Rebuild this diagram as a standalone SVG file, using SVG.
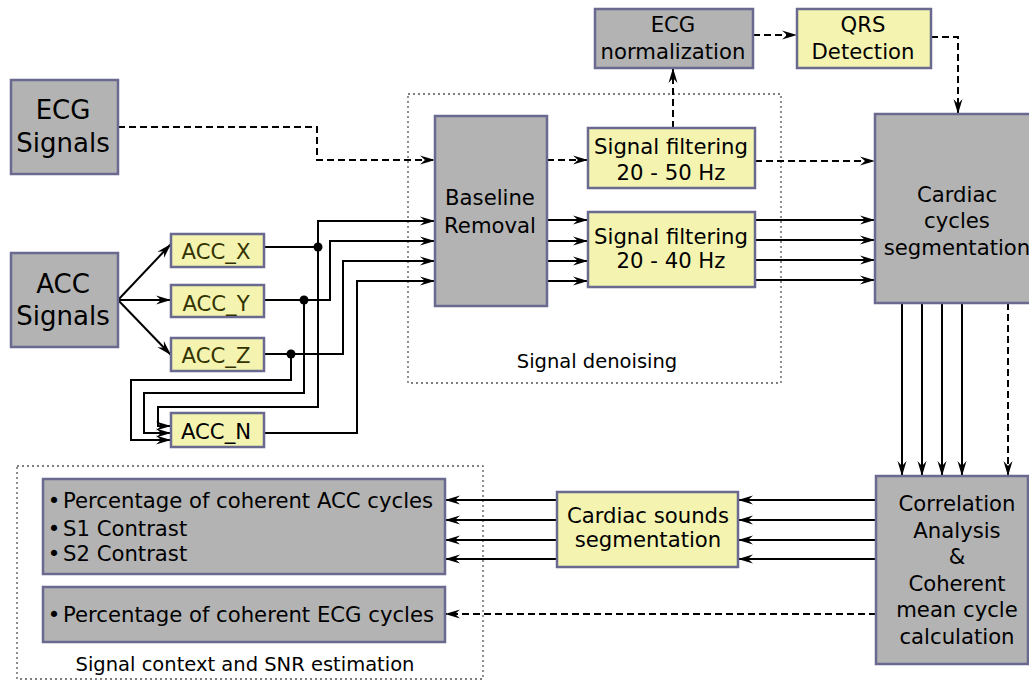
<svg xmlns="http://www.w3.org/2000/svg" width="1029" height="680" viewBox="0 0 1029 680">
<style>
text{font-family:"DejaVu Sans",Verdana,sans-serif;fill:#000;text-anchor:middle}
.t{font-size:21.2px}
.big{font-size:26px}
.lbl{font-size:19.5px}
.acc{font-size:21.2px;fill:#333300}
.gray{fill:#b3b3b3;stroke:#6a6a90;stroke-width:2.5}
.yel{fill:#f4f4b0;stroke:#6a6a90;stroke-width:2.5}
.frame{fill:none;stroke:#555;stroke-width:1.3;stroke-dasharray:2,3}
.w{fill:none;stroke:#000;stroke-width:2}
.d{fill:none;stroke:#000;stroke-width:2;stroke-dasharray:7,4}
.a{marker-end:url(#ah)}
</style>
<defs>
<marker id="ah" markerUnits="userSpaceOnUse" markerWidth="16" markerHeight="10" refX="15" refY="5" orient="auto">
<path d="M0,0.5 L15,5 L0,9.5 L5,5 z" fill="#000"/>
</marker>
</defs>

<rect class="frame" x="408" y="94" width="373" height="289"/>
<text class="lbl" x="597" y="368">Signal denoising</text>
<rect class="frame" x="17" y="466" width="466" height="213"/>
<text class="lbl" x="245" y="671">Signal context and SNR estimation</text>

<g id="connectors">
<path class="d a" d="M118,127 H317 V160 H435"/>
<path class="w a" d="M118,300 L171,244"/>
<path class="w a" d="M118,300 H171"/>
<path class="w a" d="M118,300 L171,355"/>
<path class="w a" d="M264,247 H318 V221 H435"/>
<path class="w a" d="M318,247 V407 H158 V426 H171"/>
<path class="w a" d="M264,300 H330 V241 H435"/>
<path class="w a" d="M304,300 V393 H144 V433 H171"/>
<path class="w a" d="M264,354 H343 V261 H435"/>
<path class="w a" d="M291,354 V380 H131 V440 H171"/>
<path class="w a" d="M264,433 H357 V281 H435"/>
<circle cx="318" cy="247" r="4.5"/>
<circle cx="304" cy="300" r="4.5"/>
<circle cx="291" cy="354" r="4.5"/>
<path class="d a" d="M547,160 H588"/>
<path class="w a" d="M547,220 H588"/>
<path class="w a" d="M547,241 H588"/>
<path class="w a" d="M547,261 H588"/>
<path class="w a" d="M547,281 H588"/>
<path class="d a" d="M673,128 V68"/>
<path class="d a" d="M753,35 H797"/>
<path class="d a" d="M931,37 H958 V114"/>
<path class="d a" d="M755,161 H875"/>
<path class="w a" d="M755,220 H875"/>
<path class="w a" d="M755,240 H875"/>
<path class="w a" d="M755,260 H875"/>
<path class="w a" d="M755,280 H875"/>
<path class="w a" d="M902,303 V476"/>
<path class="w a" d="M922,303 V476"/>
<path class="w a" d="M942,303 V476"/>
<path class="w a" d="M962,303 V476"/>
<path class="d a" d="M1008,303 V476"/>
<path class="w a" d="M876,500 H738"/>
<path class="w a" d="M876,520 H738"/>
<path class="w a" d="M876,540 H738"/>
<path class="w a" d="M876,559 H738"/>
<path class="w a" d="M557,500 H445"/>
<path class="w a" d="M557,520 H445"/>
<path class="w a" d="M557,540 H445"/>
<path class="w a" d="M557,559 H445"/>
<path class="d a" d="M876,614 H445"/>
</g>

<g id="ecg-signals">
<rect class="gray" x="11" y="80" width="107" height="94"/>
<text class="big" x="63" y="119">ECG</text>
<text class="big" x="63" y="152">Signals</text>
</g>
<g id="acc-signals">
<rect class="gray" x="11" y="253" width="107" height="94"/>
<text class="big" x="63" y="293">ACC</text>
<text class="big" x="63" y="325">Signals</text>
</g>
<g id="acc-x">
<rect class="yel" x="171" y="234" width="93" height="33"/>
<text class="acc" x="216" y="259">ACC_X</text>
</g>
<g id="acc-y">
<rect class="yel" x="171" y="285" width="93" height="32"/>
<text class="acc" x="216" y="311">ACC_Y</text>
</g>
<g id="acc-z">
<rect class="yel" x="171" y="338" width="93" height="33"/>
<text class="acc" x="216" y="363">ACC_Z</text>
</g>
<g id="acc-n">
<rect class="yel" x="171" y="413" width="93" height="34"/>
<text class="t" x="216" y="439">ACC_N</text>
</g>
<g id="baseline-removal">
<rect class="gray" x="435" y="116" width="112" height="190"/>
<text class="t" x="490" y="205">Baseline</text>
<text class="t" x="490" y="233">Removal</text>
</g>
<g id="filter-50">
<rect class="yel" x="588" y="128" width="167" height="60"/>
<text class="t" x="671" y="154">Signal filtering</text>
<text class="t" x="671" y="180">20 - 50 Hz</text>
</g>
<g id="filter-40">
<rect class="yel" x="588" y="212" width="167" height="75"/>
<text class="t" x="671" y="244">Signal filtering</text>
<text class="t" x="671" y="268">20 - 40 Hz</text>
</g>
<g id="ecg-normalization">
<rect class="gray" x="595" y="9" width="158" height="59"/>
<text class="t" x="673" y="32">ECG</text>
<text class="t" x="673" y="59">normalization</text>
</g>
<g id="qrs-detection">
<rect class="yel" x="797" y="9" width="134" height="59"/>
<text class="t" x="863" y="32">QRS</text>
<text class="t" x="863" y="59">Detection</text>
</g>
<g id="cardiac-cycles-segmentation">
<rect class="gray" x="875" y="114" width="165" height="189"/>
<text class="t" x="957" y="202">Cardiac</text>
<text class="t" x="957" y="228">cycles</text>
<text class="t" x="957" y="255">segmentation</text>
</g>
<g id="correlation-analysis">
<rect class="gray" x="876" y="476" width="152" height="188"/>
<text class="t" x="957" y="511">Correlation</text>
<text class="t" x="957" y="538">Analysis</text>
<text class="t" x="957" y="564">&amp;</text>
<text class="t" x="957" y="591">Coherent</text>
<text class="t" x="957" y="617">mean cycle</text>
<text class="t" x="957" y="644">calculation</text>
</g>
<g id="cardiac-sounds-segmentation">
<rect class="yel" x="557" y="492" width="181" height="75"/>
<text class="t" x="648" y="523">Cardiac sounds</text>
<text class="t" x="648" y="547">segmentation</text>
</g>
<g id="acc-metrics">
<rect class="gray" x="43" y="479" width="402" height="95"/>
<text class="t" x="54" y="508">•</text>
<text class="t" x="63" y="508" style="text-anchor:start">Percentage of coherent ACC cycles</text>
<text class="t" x="54" y="536">•</text>
<text class="t" x="63" y="536" style="text-anchor:start">S1 Contrast</text>
<text class="t" x="54" y="561">•</text>
<text class="t" x="63" y="561" style="text-anchor:start">S2 Contrast</text>
</g>
<g id="ecg-metrics">
<rect class="gray" x="43" y="587" width="402" height="55"/>
<text class="t" x="54" y="622">•</text>
<text class="t" x="63" y="622" style="text-anchor:start">Percentage of coherent ECG cycles</text>
</g>
</svg>
